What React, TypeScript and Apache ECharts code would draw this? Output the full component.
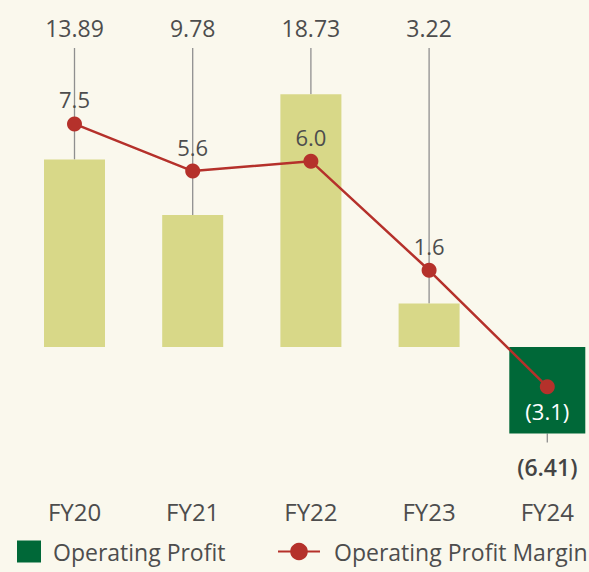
import React, { useEffect, useRef } from "react";
import * as echarts from "echarts";

const categories = ["FY20", "FY21", "FY22", "FY23", "FY24"];
const operatingProfit = [13.89, 9.78, 18.73, 3.22, -6.41];
const operatingMargin = [7.5, 5.6, 6.0, 1.6, -3.1];

const FONT = "'Open Sans', sans-serif";
const BG = "#FAF8ED";
const OLIVE = "#D8D888";
const GREEN = "#006838";
const RED = "#B5312B";
const TEXT = "#4d4d4d";

const fmt = (v: number, d: number) => (v < 0 ? `(${Math.abs(v).toFixed(d)})` : v.toFixed(d));

export default function App() {
  const ref = useRef<HTMLDivElement>(null);
  useEffect(() => {
    if (!ref.current) return;
    const chart = echarts.init(ref.current, undefined, { renderer: "svg" });
    const option: any = {
      animation: false,
      backgroundColor: BG,
      textStyle: { fontFamily: FONT },
      grid: { left: 15.4, top: 50, width: 591, height: 400 },
      legend: [
        {
          data: [{ name: "Operating Profit", icon: "rect" }],
          left: 17,
          top: 540,
          padding: 0,
          itemWidth: 24,
          itemHeight: 22,
          textStyle: { fontSize: 23, color: TEXT, fontFamily: FONT, padding: [0, 0, 0, 7] },
        },
        {
          data: ["Operating Profit Margin"],
          left: 277,
          top: 540,
          padding: 0,
          itemWidth: 42,
          itemHeight: 22,
          textStyle: { fontSize: 23, color: TEXT, fontFamily: FONT, padding: [0, 0, 0, 9] },
        },
      ],
      xAxis: [
        {
          type: "category",
          data: categories,
          position: "bottom",
          axisLine: { show: false, onZero: false },
          axisTick: { show: false },
          axisLabel: { margin: 49, fontSize: 24, color: TEXT, fontFamily: FONT },
        },
        { type: "category", data: categories, show: false, axisLine: { onZero: false } },
      ],
      yAxis: [
        { type: "value", min: -7.63, max: 22, show: false },
        { type: "value", min: -5.645, max: 10.48, show: false },
      ],
      series: [
        {
          type: "custom",
          xAxisIndex: 0,
          yAxisIndex: 0,
          z: 1,
          silent: true,
          data: operatingProfit.map((v, i) => [i, v]),
          encode: { x: 0, y: 1 },
          renderItem: (params: any, api: any) => {
            const i = api.value(0);
            const v = api.value(1);
            const p = api.coord([i, v]);
            const x = p[0];
            const top = params.coordSys.y;
            if (v >= 0) {
              return {
                type: "group",
                children: [
                  {
                    type: "line",
                    shape: { x1: x, y1: top - 2, x2: x, y2: p[1] },
                    style: { stroke: "#8f8f8f", lineWidth: 1.3 },
                  },
                  {
                    type: "text",
                    x,
                    y: top - 22,
                    style: {
                      text: fmt(v, 2),
                      fill: TEXT,
                      fontSize: 23,
                      fontFamily: FONT,
                      align: "center",
                      verticalAlign: "middle",
                    },
                  },
                ],
              };
            }
            return {
              type: "group",
              children: [
                {
                  type: "line",
                  shape: { x1: x, y1: p[1], x2: x, y2: p[1] + 9 },
                  style: { stroke: "#8f8f8f", lineWidth: 1.3 },
                },
                {
                  type: "text",
                  x,
                  y: p[1] + 33,
                  style: {
                    text: fmt(v, 2),
                    fill: "#444",
                    fontSize: 23,
                    fontWeight: 600,
                    fontFamily: FONT,
                    align: "center",
                    verticalAlign: "middle",
                  },
                },
              ],
            };
          },
        },
        {
          name: "Operating Profit",
          type: "bar",
          xAxisIndex: 0,
          yAxisIndex: 0,
          z: 2,
          barWidth: 61,
          itemStyle: { color: GREEN },
          data: operatingProfit.map((v) => (v >= 0 ? { value: v, itemStyle: { color: OLIVE } } : "-")),
        },
        {
          name: "Operating Profit",
          type: "bar",
          xAxisIndex: 1,
          yAxisIndex: 0,
          z: 2,
          barWidth: 76,
          itemStyle: { color: GREEN },
          data: operatingProfit.map((v) => (v < 0 ? v : "-")),
        },
        {
          name: "Operating Profit Margin",
          type: "line",
          xAxisIndex: 0,
          yAxisIndex: 1,
          z: 5,
          symbol: "circle",
          symbolSize: 15,
          itemStyle: { color: RED },
          lineStyle: { color: RED, width: 2.5 },
          label: {
            show: true,
            position: "top",
            distance: 6,
            fontSize: 22,
            color: TEXT,
            fontFamily: FONT,
            formatter: (p: any) => fmt(p.value, 1),
          },
          data: operatingMargin.map((v) =>
            v < 0 ? { value: v, label: { position: "bottom", color: "#ffffff" } } : v
          ),
        },
      ],
    };
    chart.setOption(option);
    return () => chart.dispose();
  }, []);
  return (
    <div
      style={{
        position: "fixed",
        left: 0,
        top: 0,
        width: 589,
        height: 572,
        overflow: "hidden",
        background: BG,
      }}
    >
      <div ref={ref} style={{ width: 610, height: 572 }} />
    </div>
  );
}
